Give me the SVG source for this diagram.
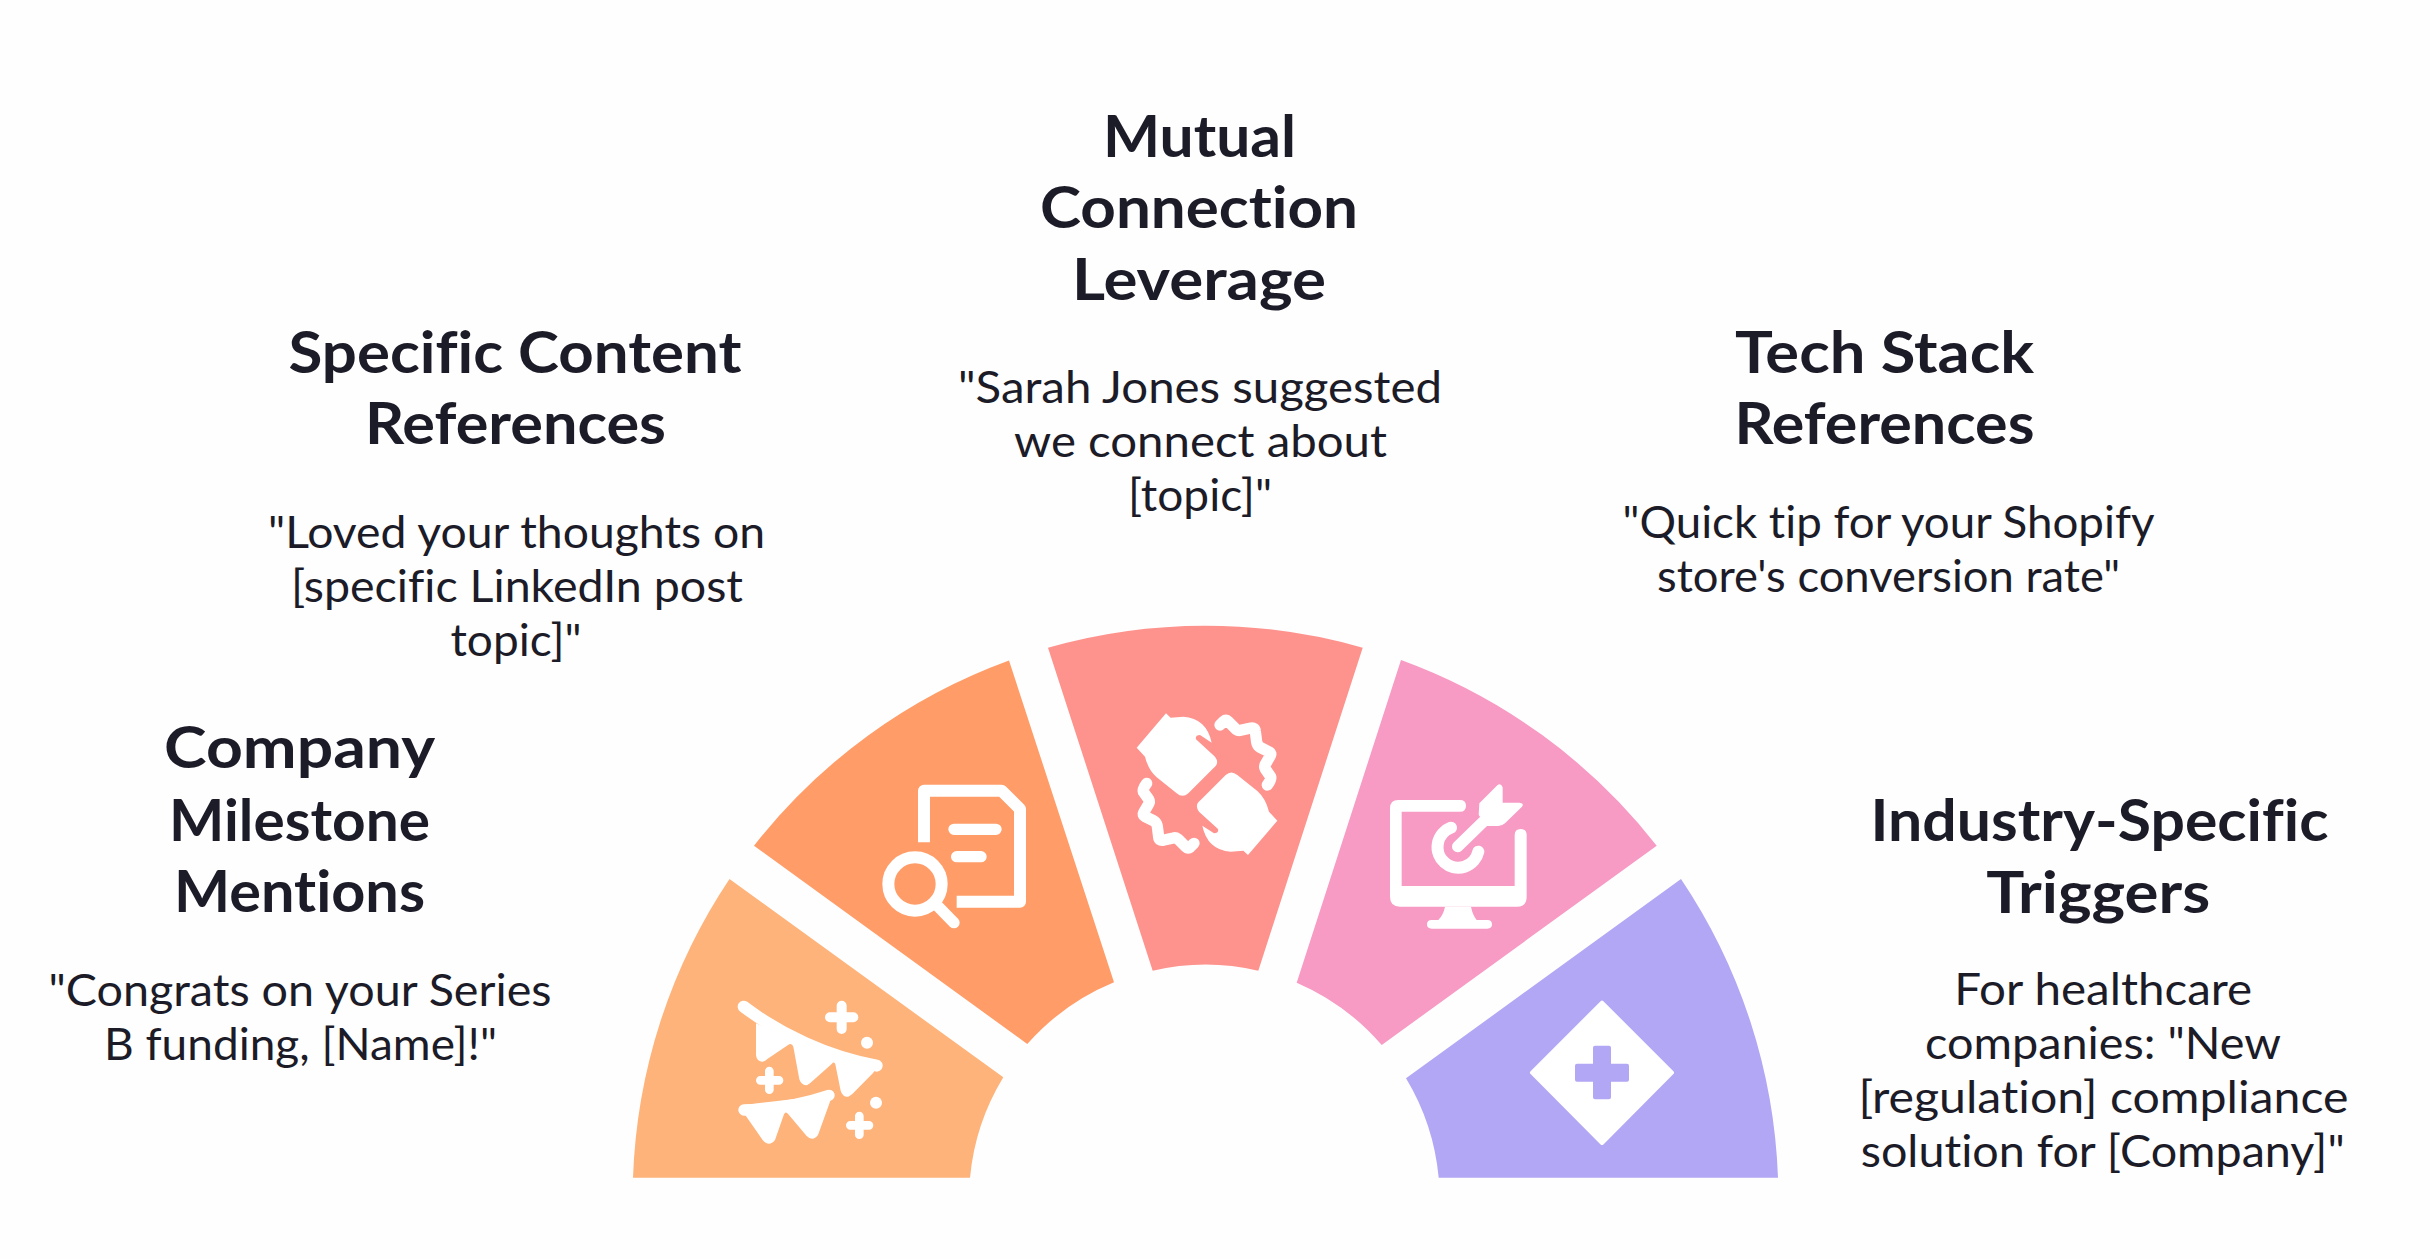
<svg xmlns="http://www.w3.org/2000/svg" width="2430" height="1259" viewBox="0 0 2430 1259">
<style>
.t{font-family:"Lato","Liberation Sans",sans-serif;font-weight:700;font-size:58px;fill:#1c1b28;text-anchor:middle;font-variant-ligatures:none}
.b{font-family:"Lato","Liberation Sans",sans-serif;font-weight:400;font-size:44px;fill:#1c1b28;text-anchor:middle;font-variant-ligatures:none}
.w{fill:#fff;stroke:none}
.s{fill:none;stroke:#fff;stroke-linecap:round;stroke-linejoin:round}
</style>
<rect width="2430" height="1259" fill="#fefefe"/>
<g id="node-company-milestone">
<path fill="#feb37b" d="M633 1177.7A573 573 0 0 1 729.5 879L1003.3 1077.3A235 235 0 0 0 970 1177.7Z"/>
<g transform="translate(620 880) scale(.33333)">
<path class="s" stroke-width="36" d="M371 380C480 462 620 530 770 557"/>
<path class="w" d="M408 430L408 525Q410 545 428 545Q436 543 442 537L503 496Q515 487 520 500L538 598Q545 618 562 615L570 610L635 552Q643 543 646 553L662 632Q668 652 685 650L697 642L760 578L770 560L500 470Z"/>
<path class="s" stroke-width="30" d="M665 377V447M630 412H700"/>
<circle class="w" cx="741" cy="488" r="18"/>
<path class="s" stroke-width="26" d="M448 573V629M421 601H477"/>
<path class="s" stroke-width="34" d="M372 690C460 688 540 675 627 646"/>
<path class="w" d="M372 700L428 780Q447 803 465 780L492 703Q497 692 505 703L560 768Q578 786 594 765L630 665L628 645L370 675Z"/>
<circle class="w" cx="768" cy="668" r="18"/>
<path class="s" stroke-width="26" d="M718 708V764M691 736H747"/>
</g>
<text class="t" x="299.6" y="768" textLength="271" lengthAdjust="spacingAndGlyphs">Company</text>
<text class="t" x="299.5" y="840.5" textLength="261" lengthAdjust="spacingAndGlyphs">Milestone</text>
<text class="t" x="299.5" y="912.3" textLength="251" lengthAdjust="spacingAndGlyphs">Mentions</text>
<text class="b" x="300" y="1006" textLength="503" lengthAdjust="spacingAndGlyphs">"Congrats on your Series</text>
<text class="b" x="300.5" y="1060" textLength="393" lengthAdjust="spacingAndGlyphs">B funding, [Name]!"</text>
</g>
<g id="node-specific-content">
<path fill="#ff9c67" d="M754 845.7A573 573 0 0 1 1009 660.5L1114 982.3A235 235 0 0 0 1027.3 1044Z"/>
<g transform="translate(740 640) scale(.33333)">
<path class="s" stroke-width="36" style="stroke-linecap:butt" d="M552 607V452H785L840 507V785H650"/>
<path class="s" stroke-width="34" d="M642 568H768M650 650H723M595 800L642 848"/>
<circle cx="525" cy="732" r="80" fill="none" stroke="#fff" stroke-width="36"/>
</g>
<text class="t" x="515" y="372.7" textLength="453" lengthAdjust="spacingAndGlyphs">Specific Content</text>
<text class="t" x="515.5" y="444.3" textLength="301" lengthAdjust="spacingAndGlyphs">References</text>
<text class="b" x="516.5" y="547.5" textLength="497" lengthAdjust="spacingAndGlyphs">"Loved your thoughts on</text>
<text class="b" x="517" y="602" textLength="452" lengthAdjust="spacingAndGlyphs">[specific LinkedIn post</text>
<text class="b" x="516" y="656" textLength="131" lengthAdjust="spacingAndGlyphs">topic]"</text>
</g>
<g id="node-mutual-connection">
<path fill="#fe928d" d="M1048 647.7A573 573 0 0 1 1362.7 647.7L1258.3 970.7A235 235 0 0 0 1152.7 970.7Z"/>
<g transform="translate(1040 620) scale(.33333)">
<g>
<path class="w" d="M378 280L392 293L430 290Q500 295 515 368L480 345Q465 345 468 358L525 410Q540 430 520 445L445 520Q428 535 410 520L350 472Q325 450 315 410L290 383Z"/>
<path class="s" stroke-width="34" d="M540 315L552 303Q558 298 564 304L588 328Q595 333 602 331L633 324Q645 322 646 334L650 366Q652 378 662 383L688 396Q695 400 691 407L676 433Q672 440 676 447L692 470Q695 478 682 495"/>
</g>
<g transform="rotate(180 501 492.5)">
<path class="w" d="M378 280L392 293L430 290Q500 295 515 368L480 345Q465 345 468 358L525 410Q540 430 520 445L445 520Q428 535 410 520L350 472Q325 450 315 410L290 383Z"/>
<path class="s" stroke-width="34" d="M540 315L552 303Q558 298 564 304L588 328Q595 333 602 331L633 324Q645 322 646 334L650 366Q652 378 662 383L688 396Q695 400 691 407L676 433Q672 440 676 447L692 470Q695 478 682 495"/>
</g>
</g>
<text class="t" x="1199.5" y="156.7" textLength="193" lengthAdjust="spacingAndGlyphs">Mutual</text>
<text class="t" x="1199" y="228.3" textLength="318" lengthAdjust="spacingAndGlyphs">Connection</text>
<text class="t" x="1199" y="300" textLength="254" lengthAdjust="spacingAndGlyphs">Leverage</text>
<text class="b" x="1200" y="403" textLength="484" lengthAdjust="spacingAndGlyphs">"Sarah Jones suggested</text>
<text class="b" x="1200.5" y="457" textLength="373" lengthAdjust="spacingAndGlyphs">we connect about</text>
<text class="b" x="1200" y="511" textLength="144" lengthAdjust="spacingAndGlyphs">[topic]"</text>
</g>
<g id="node-tech-stack">
<path fill="#f79ac4" d="M1401 660A573 573 0 0 1 1656.7 845.7L1381.7 1045A235 235 0 0 0 1296.7 982.7Z"/>
<g transform="translate(1290 640) scale(.33333)">
<path class="w" d="M510 480H325Q300 480 300 505V770Q300 800 330 800H680Q710 800 710 770V585Q710 567 692 567Q674 567 674 585V738H335V515H510Q528 515 528 497Q528 480 510 480Z"/>
<path class="w" d="M465 800Q460 825 445 840H425Q411 840 411 853Q411 866 425 866H592Q606 866 606 853Q606 840 592 840H560Q548 825 543 800Z"/>
<path class="s" stroke-width="36" d="M483 563A62 62 0 1 0 565 635"/>
<path class="s" stroke-width="34" d="M503 620L580 545"/>
<path class="w" d="M568 490L622 436Q632 428 638 442V488H688Q704 490 696 500L645 550Q636 558 625 558H590L566 525Z"/>
</g>
<text class="t" x="1884.5" y="372.7" textLength="299" lengthAdjust="spacingAndGlyphs">Tech Stack</text>
<text class="t" x="1884.5" y="444.3" textLength="300" lengthAdjust="spacingAndGlyphs">References</text>
<text class="b" x="1888.5" y="537.5" textLength="532" lengthAdjust="spacingAndGlyphs">"Quick tip for your Shopify</text>
<text class="b" x="1888.5" y="592" textLength="463" lengthAdjust="spacingAndGlyphs">store's conversion rate"</text>
</g>
<g id="node-industry-specific">
<path fill="#b2a7f4" d="M1681 879A573 573 0 0 1 1778 1177.7H1438.7A235 235 0 0 0 1406 1078.3Z"/>
<g transform="translate(1380 860) scale(.33333)">
<path d="M666 428L876 638L666 849L456 638Z" fill="#fff" stroke="#fff" stroke-width="12" stroke-linejoin="round"/>
<path fill="#b2a7f4" d="M645 557H687Q693 557 693 563V611H741Q747 611 747 617V659Q747 665 741 665H693V712Q693 718 687 718H645Q639 718 639 712V665H591Q585 665 585 659V617Q585 611 591 611H639V563Q639 557 645 557Z"/>
</g>
<text class="t" x="2099.5" y="840.7" textLength="458" lengthAdjust="spacingAndGlyphs">Industry-Specific</text>
<text class="t" x="2098.2" y="912.7" textLength="224" lengthAdjust="spacingAndGlyphs">Triggers</text>
<text class="b" x="2103.2" y="1005" textLength="298" lengthAdjust="spacingAndGlyphs">For healthcare</text>
<text class="b" x="2103" y="1059" textLength="356" lengthAdjust="spacingAndGlyphs">companies: "New</text>
<text class="b" x="2103.5" y="1112.5" textLength="490" lengthAdjust="spacingAndGlyphs">[regulation] compliance</text>
<text class="b" x="2102.7" y="1166.5" textLength="484" lengthAdjust="spacingAndGlyphs">solution for [Company]"</text>
</g>
</svg>
